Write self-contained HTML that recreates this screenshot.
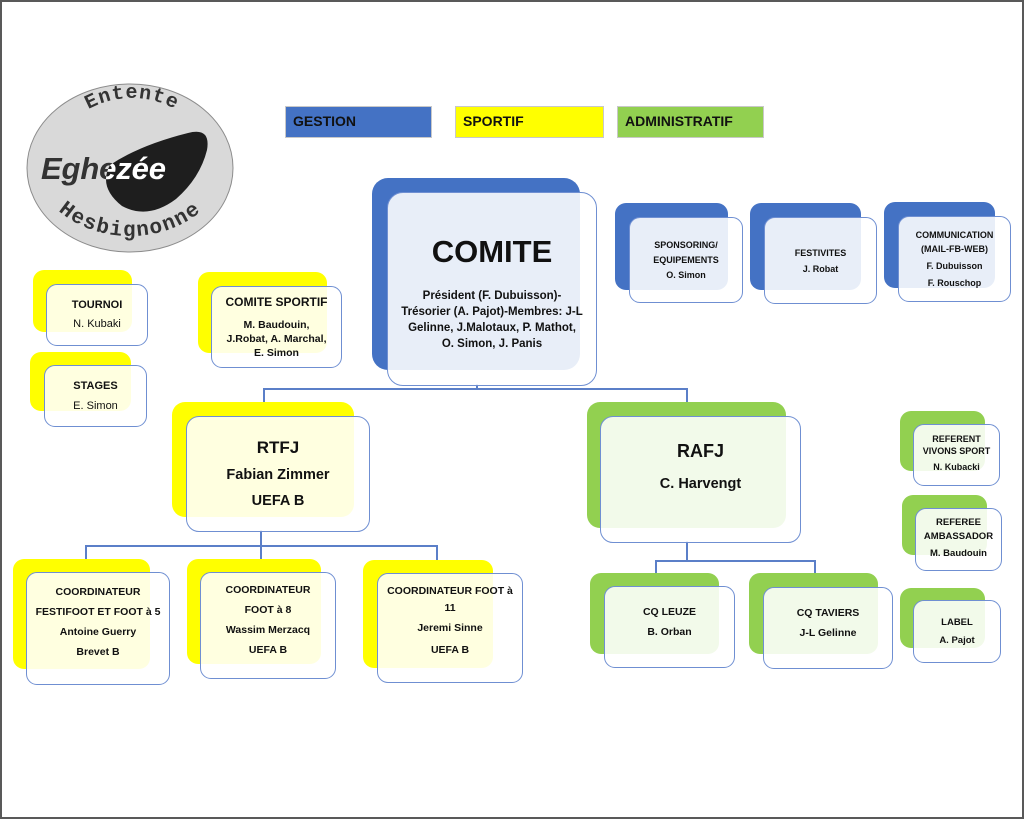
<!DOCTYPE html>
<html><head><meta charset="utf-8"><style>
*{margin:0;padding:0;box-sizing:border-box}
body{width:1024px;height:819px;position:relative;background:#fff;overflow:hidden;font-family:"Liberation Sans",Arial,sans-serif;font-weight:bold;color:#111}
.frame{position:absolute;left:0;top:0;width:1024px;height:819px;border:2px solid #595959}
.bk{position:absolute;border-radius:11px}
.fr{position:absolute;border-radius:11px;border:1.5px solid #6f8fd2;background:rgba(255,255,255,0.88);display:flex;flex-direction:column;justify-content:center;align-items:center;text-align:center}
.b{background:#4472c4}.y{background:#ffff00}.g{background:#92d050}
.ln{position:absolute;background:#5b7fc8}
.leg{position:absolute;height:32px;border:1.5px solid #c8c8c8;font-size:14px;padding-left:7px;line-height:29px}
</style></head><body>
<div class="frame"></div>

<svg style="position:absolute;left:0;top:0" width="260" height="260">
<defs>
<path id="top" d="M 50,172 A 82 74 0 0 1 214,172"/>
<path id="bot" d="M 34,160 A 96 76 0 0 0 226,160"/>
<clipPath id="blob"><path d="M 110,165 Q 98,187 122,206 Q 148,220 176,199 Q 200,178 207,150 Q 211,127 188,133 Q 140,145 110,165 Z"/></clipPath>
</defs>
<ellipse cx="130" cy="168" rx="103" ry="84" fill="#d9d9d9" stroke="#8c8c8c" stroke-width="1"/>
<text font-family="Liberation Mono,monospace" font-weight="bold" font-size="20" fill="#333" letter-spacing="1"><textPath href="#top" startOffset="50%" text-anchor="middle">Entente</textPath></text>
<text font-family="Liberation Mono,monospace" font-weight="bold" font-size="21" fill="#333" letter-spacing="1.5"><textPath href="#bot" startOffset="50%" text-anchor="middle">Hesbignonne</textPath></text>
<path d="M 110,165 Q 98,187 122,206 Q 148,220 176,199 Q 200,178 207,150 Q 211,127 188,133 Q 140,145 110,165 Z" fill="#1e1e1e"/>
<text x="41" y="179" font-family="Liberation Sans,sans-serif" font-style="italic" font-size="31" fill="#333" textLength="125">Eghezée</text>
<g clip-path="url(#blob)"><text x="41" y="179" font-family="Liberation Sans,sans-serif" font-style="italic" font-size="31" fill="#fff" textLength="125">Eghezée</text></g>
</svg>

<div class="leg b" style="left:285px;top:106px;width:147px">GESTION</div>
<div class="leg y" style="left:455px;top:106px;width:149px">SPORTIF</div>
<div class="leg g" style="left:617px;top:106px;width:147px">ADMINISTRATIF</div>

<div class="ln" style="left:476px;top:384px;width:1.5px;height:5px"></div>
<div class="ln" style="left:263px;top:388px;width:424px;height:1.5px"></div>
<div class="ln" style="left:263px;top:388px;width:1.5px;height:15px"></div>
<div class="ln" style="left:686px;top:388px;width:1.5px;height:15px"></div>
<div class="ln" style="left:260px;top:530px;width:1.5px;height:16px"></div>
<div class="ln" style="left:85px;top:545px;width:352px;height:1.5px"></div>
<div class="ln" style="left:85px;top:545px;width:1.5px;height:15px"></div>
<div class="ln" style="left:260px;top:545px;width:1.5px;height:15px"></div>
<div class="ln" style="left:436px;top:545px;width:1.5px;height:15px"></div>
<div class="ln" style="left:686px;top:541px;width:1.5px;height:20px"></div>
<div class="ln" style="left:655px;top:560px;width:160px;height:1.5px"></div>
<div class="ln" style="left:655px;top:560px;width:1.5px;height:14px"></div>
<div class="ln" style="left:814px;top:560px;width:1.5px;height:14px"></div>

<div class="bk b" style="left:372px;top:178px;width:208px;height:192px;border-radius:16px"></div>
<div class="fr" style="left:387px;top:192px;width:210px;height:194px;border-radius:16px">
<div style="font-size:31px;margin-top:8px;margin-bottom:18px">COMITE</div>
<div style="font-size:11.5px;line-height:16px;white-space:nowrap">Président (F. Dubuisson)-<br>Trésorier (A. Pajot)-Membres: J-L<br>Gelinne, J.Malotaux, P. Mathot,<br>O. Simon, J. Panis</div>
</div>

<div class="bk b" style="left:615px;top:203px;width:113px;height:87px"></div>
<div class="fr" style="left:629px;top:217px;width:114px;height:86px;font-size:9px;line-height:15px"><div>SPONSORING/<br>EQUIPEMENTS<br>O. Simon</div></div>
<div class="bk b" style="left:750px;top:203px;width:111px;height:87px"></div>
<div class="fr" style="left:764px;top:217px;width:113px;height:87px;font-size:9px;line-height:16px"><div>FESTIVITES<br>J. Robat</div></div>
<div class="bk b" style="left:884px;top:202px;width:111px;height:86px"></div>
<div class="fr" style="left:898px;top:216px;width:113px;height:86px;font-size:9px;line-height:14px"><div>COMMUNICATION<br>(MAIL-FB-WEB)<br><span style="line-height:20px">F. Dubuisson</span><br>F. Rouschop</div></div>

<div class="bk y" style="left:33px;top:270px;width:99px;height:62px"></div>
<div class="fr" style="left:46px;top:284px;width:102px;height:62px;font-size:11px;line-height:19px"><div>TOURNOI<br><span style="font-weight:normal">N. Kubaki</span></div></div>
<div class="bk y" style="left:30px;top:352px;width:101px;height:59px"></div>
<div class="fr" style="left:44px;top:365px;width:103px;height:62px;font-size:11px;line-height:20px"><div>STAGES<br><span style="font-weight:normal">E. Simon</span></div></div>
<div class="bk y" style="left:198px;top:272px;width:129px;height:81px"></div>
<div class="fr" style="left:211px;top:286px;width:131px;height:82px;font-size:10.5px;line-height:14px"><div><span style="font-size:12px">COMITE SPORTIF</span><div style="height:8px"></div>M. Baudouin,<br>J.Robat, A. Marchal,<br>E. Simon</div></div>

<div class="bk y" style="left:172px;top:402px;width:182px;height:115px;border-radius:13px"></div>
<div class="fr" style="left:186px;top:416px;width:184px;height:116px;border-radius:13px;font-size:14.5px;line-height:26px"><div><span style="font-size:17px">RTFJ</span><br>Fabian Zimmer<br>UEFA B</div></div>

<div class="bk g" style="left:587px;top:402px;width:199px;height:126px;border-radius:13px"></div>
<div class="fr" style="left:600px;top:416px;width:201px;height:127px;border-radius:13px;font-size:14.5px;line-height:31px"><div style="margin-top:-24px"><span style="font-size:18px">RAFJ</span><br>C. Harvengt</div></div>

<div class="bk y" style="left:13px;top:559px;width:137px;height:110px"></div>
<div class="fr" style="left:26px;top:572px;width:144px;height:113px;font-size:10.5px;line-height:20px"><div style="margin-top:-14px">COORDINATEUR<br>FESTIFOOT ET FOOT à 5<br>Antoine Guerry<br>Brevet B</div></div>
<div class="bk y" style="left:187px;top:559px;width:134px;height:105px"></div>
<div class="fr" style="left:200px;top:572px;width:136px;height:107px;font-size:10.5px;line-height:20px"><div style="margin-top:-12px">COORDINATEUR<br>FOOT à 8<br>Wassim Merzacq<br>UEFA B</div></div>
<div class="bk y" style="left:363px;top:560px;width:130px;height:108px"></div>
<div class="fr" style="left:377px;top:573px;width:146px;height:110px;font-size:10.5px;line-height:17px"><div style="margin-top:-12px">COORDINATEUR FOOT à<br>11<br><span style="line-height:22px">Jeremi Sinne</span><br><span style="line-height:22px">UEFA B</span></div></div>

<div class="bk g" style="left:590px;top:573px;width:129px;height:81px"></div>
<div class="fr" style="left:604px;top:586px;width:131px;height:82px;font-size:10.5px;line-height:20px"><div style="margin-top:-10px">CQ LEUZE<br>B. Orban</div></div>
<div class="bk g" style="left:749px;top:573px;width:129px;height:81px"></div>
<div class="fr" style="left:763px;top:587px;width:130px;height:82px;font-size:10.5px;line-height:20px"><div style="margin-top:-10px">CQ TAVIERS<br>J-L Gelinne</div></div>

<div class="bk g" style="left:900px;top:411px;width:85px;height:60px"></div>
<div class="fr" style="left:913px;top:424px;width:87px;height:62px;font-size:9px;line-height:12px"><div>REFERENT<br>VIVONS SPORT<br><span style="line-height:20px">N. Kubacki</span></div></div>
<div class="bk g" style="left:902px;top:495px;width:85px;height:60px"></div>
<div class="fr" style="left:915px;top:508px;width:87px;height:63px;font-size:9.5px;line-height:14px"><div>REFEREE<br>AMBASSADOR<br><span style="line-height:20px">M. Baudouin</span></div></div>
<div class="bk g" style="left:900px;top:588px;width:85px;height:60px"></div>
<div class="fr" style="left:913px;top:600px;width:88px;height:63px;font-size:9.5px;line-height:18px"><div>LABEL<br>A. Pajot</div></div>
</body></html>
